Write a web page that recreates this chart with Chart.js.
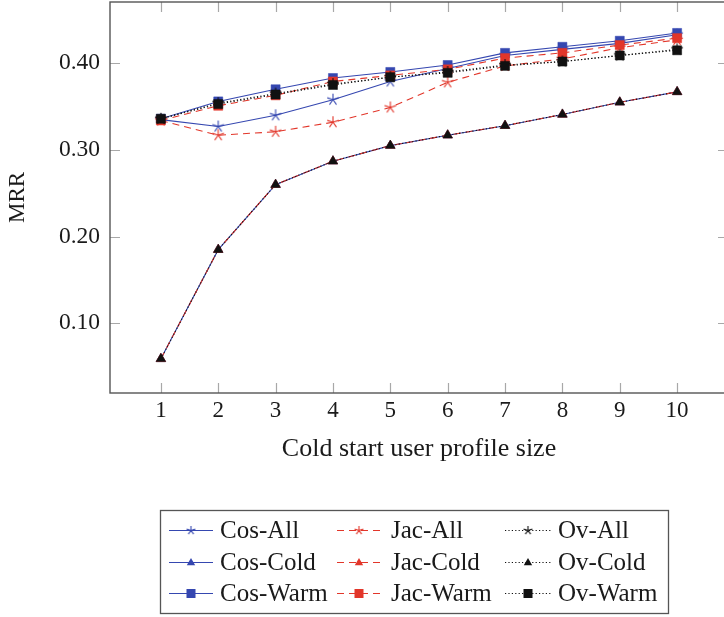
<!DOCTYPE html>
<html>
<head>
<meta charset="utf-8">
<script src="https://cdn.jsdelivr.net/npm/chart.js@4/dist/chart.umd.min.js"></script>
<style>
  html, body { margin: 0; padding: 0; background: #fff; overflow: hidden; }
  #wrap { position: relative; width: 730px; height: 617px; }
</style>
</head>
<body>
<div id="wrap"><canvas id="mrrChart" width="730" height="617"></canvas></div>
<script>
// Data
const profileSizes = [1, 2, 3, 4, 5, 6, 7, 8, 9, 10];
const cosAll  = [0.335, 0.327, 0.340, 0.358, 0.379, 0.394, 0.409, 0.416, 0.423, 0.433];
const cosCold = [0.059, 0.185, 0.260, 0.287, 0.305, 0.317, 0.328, 0.341, 0.355, 0.367];
const cosWarm = [0.336, 0.356, 0.370, 0.383, 0.390, 0.398, 0.412, 0.419, 0.426, 0.435];
const jacAll  = [0.334, 0.317, 0.321, 0.332, 0.349, 0.378, 0.397, 0.405, 0.418, 0.427];
const jacCold = [0.059, 0.185, 0.260, 0.287, 0.305, 0.317, 0.328, 0.341, 0.355, 0.367];
const jacWarm = [0.334, 0.351, 0.363, 0.379, 0.386, 0.393, 0.406, 0.412, 0.421, 0.429];
const ovAll   = [0.336, 0.354, 0.365, 0.376, 0.384, 0.390, 0.398, 0.402, 0.409, 0.416];
const ovCold  = [0.059, 0.185, 0.260, 0.287, 0.305, 0.317, 0.328, 0.341, 0.355, 0.367];
const ovWarm  = [0.336, 0.353, 0.364, 0.375, 0.384, 0.389, 0.397, 0.402, 0.409, 0.415];
const yTickValues = [0.1, 0.2, 0.3, 0.4];
const seriesLabels = ['Cos-All', 'Cos-Cold', 'Cos-Warm', 'Jac-All', 'Jac-Cold', 'Jac-Warm', 'Ov-All', 'Ov-Cold', 'Ov-Warm'];

const FONT = '"Liberation Serif", "DejaVu Serif", serif';
const BLUE = '#3547b0';
const RED = '#e2362a';
const BLACK = '#111111';

// pgfplots-like 5-arm star mark
function starMark(color, r) {
    const c = document.createElement('canvas');
    const s = Math.ceil(r * 2 + 4);
    c.width = s; c.height = s;
    const ctx = c.getContext('2d');
    ctx.strokeStyle = color;
    ctx.lineWidth = 1.1;
    ctx.beginPath();
    for (let k = 0; k < 5; k++) {
        const a = -Math.PI / 2 + k * 2 * Math.PI / 5;
        ctx.moveTo(s / 2, s / 2);
        ctx.lineTo(s / 2 + Math.cos(a) * r, s / 2 + Math.sin(a) * r);
    }
    ctx.stroke();
    return c;
}

const families = [
    { color: BLUE, dash: [] },
    { color: RED, dash: [7, 5] },
    { color: BLACK, dash: [1.2, 2.2] }
];
const seriesData = [cosAll, cosCold, cosWarm, jacAll, jacCold, jacWarm, ovAll, ovCold, ovWarm];

const datasets = seriesData.map((vals, i) => {
    const fam = families[Math.floor(i / 3)];
    const kind = i % 3; // 0 all, 1 cold, 2 warm
    let pointStyle, radius;
    if (kind === 0) { pointStyle = starMark(fam.color, 6); radius = 6; }
    else if (kind === 1) { pointStyle = 'triangle'; radius = 5.5; }
    else { pointStyle = 'rect'; radius = 6.4; }
    return {
        label: seriesLabels[i],
        data: vals.map((v, j) => ({ x: profileSizes[j], y: v })),
        borderColor: fam.color,
        backgroundColor: fam.color,
        borderWidth: 1.1,
        borderDash: fam.dash,
        pointStyle: pointStyle,
        pointRadius: radius,
        pointBorderWidth: 0.5,
        pointBorderColor: fam.color,
        pointBackgroundColor: fam.color,
        tension: 0,
        order: 9 - i,
        _kind: kind,
        _fam: fam
    };
});

// frame + inward ticks, drawn like pgfplots
const framePlugin = {
    id: 'frame',
    afterDatasetsDraw(chart) {
        const { ctx, chartArea: a, scales } = chart;
        ctx.save();
        ctx.strokeStyle = '#a8a8a8';
        ctx.lineWidth = 1.2;
        const tl = 10;
        profileSizes.forEach(v => {
            const x = Math.round(scales.x.getPixelForValue(v)) + 0.5;
            ctx.beginPath();
            ctx.moveTo(x, a.bottom); ctx.lineTo(x, a.bottom - tl);
            ctx.moveTo(x, a.top); ctx.lineTo(x, a.top + tl);
            ctx.stroke();
        });
        yTickValues.forEach(v => {
            const y = Math.round(scales.y.getPixelForValue(v)) + 0.5;
            ctx.beginPath();
            ctx.moveTo(a.left, y); ctx.lineTo(a.left + tl, y);
            ctx.moveTo(a.right, y); ctx.lineTo(a.right - tl, y);
            ctx.stroke();
        });
        ctx.strokeStyle = '#555555';
        ctx.lineWidth = 1.4;
        ctx.strokeRect(a.left, a.top, a.right - a.left, a.bottom - a.top);
        ctx.restore();
    }
};

function drawMark(ctx, ds, x, y) {
    const c = ds._fam.color;
    ctx.save();
    ctx.setLineDash([]);
    if (ds._kind === 0) {
        const img = starMark(c, 4.5);
        ctx.drawImage(img, x - img.width / 2, y - img.height / 2);
    } else if (ds._kind === 1) {
        ctx.fillStyle = c;
        ctx.beginPath();
        ctx.moveTo(x, y - 4.5); ctx.lineTo(x + 4.2, y + 2.8); ctx.lineTo(x - 4.2, y + 2.8);
        ctx.closePath(); ctx.fill();
    } else {
        ctx.fillStyle = c;
        ctx.fillRect(x - 4.5, y - 4.5, 9, 9);
    }
    ctx.restore();
}

// pgfplots-style legend box below the axis
const legendPlugin = {
    id: 'pgfLegend',
    afterDraw(chart) {
        const ctx = chart.ctx;
        const box = { x: 160, y: 510, w: 508, h: 103 };
        const sampleStart = [169, 337, 505];
        const sampleEnd = [213, 381, 551];
        const textX = [220, 391, 558];
        const rowY = [530, 562, 593];
        ctx.save();
        ctx.fillStyle = '#fff';
        ctx.fillRect(box.x, box.y, box.w, box.h);
        ctx.strokeStyle = '#555555';
        ctx.lineWidth = 1.3;
        ctx.strokeRect(box.x + 0.5, box.y + 0.5, box.w, box.h);
        chart.data.datasets.forEach((ds, i) => {
            const col = Math.floor(i / 3), row = i % 3;
            const y = rowY[row];
            ctx.strokeStyle = ds._fam.color;
            ctx.lineWidth = 1.1;
            ctx.setLineDash(ds._fam.dash);
            ctx.beginPath();
            ctx.moveTo(sampleStart[col], y + 0.5);
            ctx.lineTo(sampleEnd[col], y + 0.5);
            ctx.stroke();
            ctx.setLineDash([]);
            drawMark(ctx, ds, (sampleStart[col] + sampleEnd[col]) / 2, y + 0.5);
            ctx.fillStyle = '#1a1a1a';
            ctx.font = '25px ' + FONT;
            ctx.textBaseline = 'middle';
            ctx.textAlign = 'left';
            ctx.fillText(ds.label, textX[col], y + 1);
        });
        ctx.restore();
    }
};

function noPad(s) {
    s.paddingLeft = 0; s.paddingRight = 0; s.paddingTop = 0; s.paddingBottom = 0;
}

new Chart(document.getElementById('mrrChart'), {
    type: 'line',
    data: { datasets },
    options: {
        responsive: false,
        animation: false,
        devicePixelRatio: 1,
        layout: { autoPadding: false, padding: { left: 0, right: 2, top: 2, bottom: 150 } },
        plugins: { legend: { display: false }, tooltip: { enabled: false } },
        scales: {
            x: {
                type: 'linear',
                min: 0.113,
                max: 10.887,
                afterBuildTicks: s => { s.ticks = profileSizes.map(v => ({ value: v })); },
                afterFit: s => { s.height = 74; noPad(s); },
                grid: { display: false, drawTicks: false },
                border: { display: false },
                ticks: {
                    padding: 4,
                    color: '#1a1a1a',
                    font: { family: FONT, size: 23 },
                    maxRotation: 0,
                    callback: v => String(v)
                },
                title: {
                    display: true,
                    text: 'Cold start user profile size',
                    color: '#1a1a1a',
                    font: { family: FONT, size: 26 },
                    padding: { top: 0, bottom: 2 }
                }
            },
            y: {
                type: 'linear',
                min: 0.0196,
                max: 0.4707,
                afterBuildTicks: s => { s.ticks = yTickValues.map(v => ({ value: v })); },
                afterFit: s => { s.width = 110; noPad(s); },
                grid: { display: false, drawTicks: false },
                border: { display: false },
                ticks: {
                    padding: 10,
                    color: '#1a1a1a',
                    font: { family: FONT, size: 23.5 },
                    callback: v => Number(v).toFixed(2)
                },
                title: {
                    display: true,
                    text: 'MRR',
                    color: '#1a1a1a',
                    font: { family: FONT, size: 23 },
                    padding: { top: 4, bottom: 0 }
                }
            }
        }
    },
    plugins: [framePlugin, legendPlugin]
});
</script>
</body>
</html>
